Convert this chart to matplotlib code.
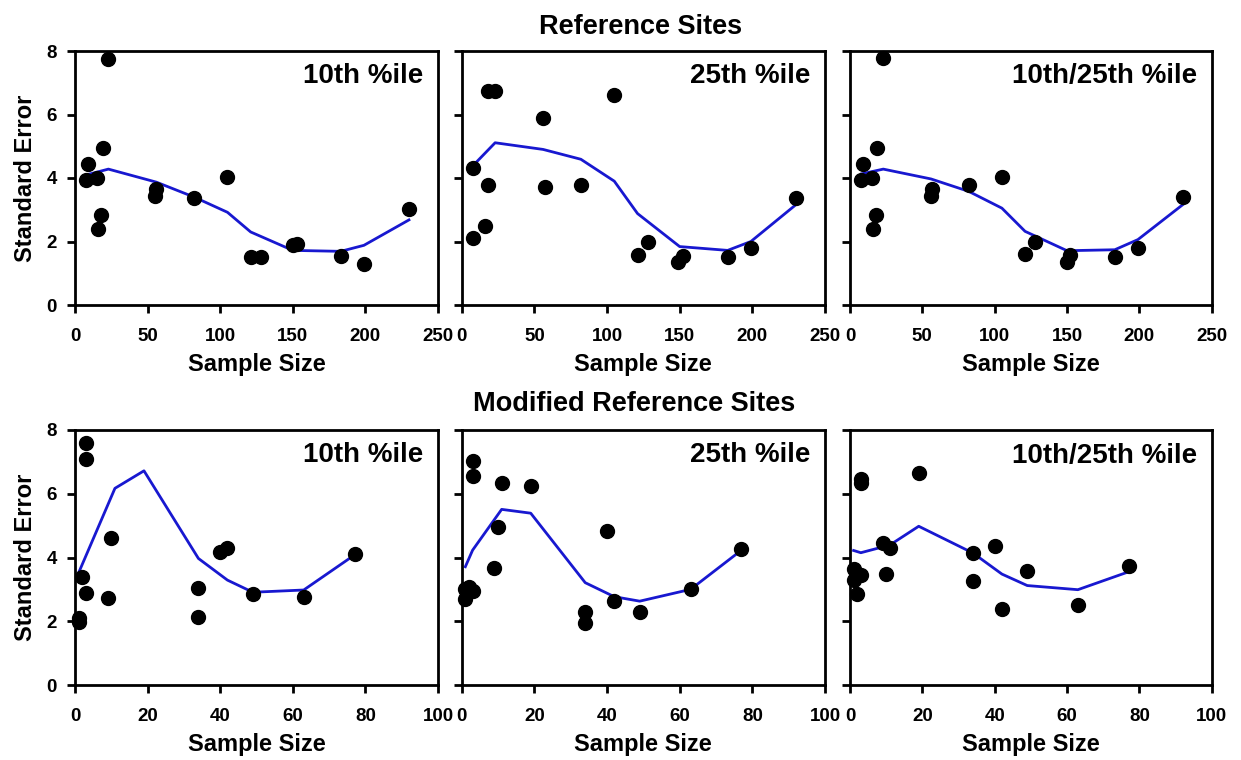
import matplotlib
matplotlib.use("Agg")
import matplotlib.pyplot as plt

plt.rcParams['font.family'] = ['Liberation Sans', 'DejaVu Sans']
plt.rcParams['font.weight'] = 'bold'

# Reference sites - 10th %ile
ref10_x = [23, 9, 7.5, 15, 19, 18, 16, 56, 55, 82, 105, 121, 128, 150, 153, 183, 199, 230]
ref10_y = [7.75, 4.45, 3.95, 4.0, 4.95, 2.82, 2.4, 3.65, 3.43, 3.38, 4.02, 1.5, 1.5, 1.9, 1.93, 1.53, 1.3, 3.03]
ref_fit_x = [8, 23, 56, 82, 105, 121, 150, 183, 199, 230]
ref10_fit = [4.1, 4.28, 3.87, 3.4, 2.92, 2.3, 1.72, 1.69, 1.88, 2.68]

# Reference sites - 25th %ile
ref25_x = [18, 23, 105, 56, 8, 18, 57, 82, 16, 8, 121, 128, 149, 152, 183, 199, 230]
ref25_y = [6.75, 6.75, 6.62, 5.9, 4.3, 3.78, 3.72, 3.77, 2.5, 2.1, 1.58, 1.98, 1.34, 1.55, 1.51, 1.8, 3.36]
ref25_fit = [4.4, 5.11, 4.9, 4.59, 3.9, 2.88, 1.84, 1.72, 2.0, 3.16]

# Reference sites - 10th/25th %ile
ref1025_x = [23, 9, 7.5, 15, 19, 18, 16, 57, 56, 82, 105, 121, 128, 150, 152, 183, 199, 230]
ref1025_y = [7.78, 4.44, 3.94, 3.99, 4.94, 2.84, 2.4, 3.66, 3.43, 3.78, 4.03, 1.61, 1.98, 1.37, 1.58, 1.52, 1.81, 3.39]
ref1025_fit = [4.13, 4.28, 3.97, 3.58, 3.05, 2.32, 1.71, 1.74, 2.06, 3.16]

# Modified reference sites - 10th %ile
mod10_x = [3, 3, 10, 40, 42, 77, 2, 3, 9, 34, 34, 49, 63, 1, 1]
mod10_y = [7.6, 7.1, 4.62, 4.18, 4.3, 4.1, 3.4, 2.9, 2.72, 3.03, 2.14, 2.85, 2.75, 2.1, 1.97]
mod10_fit_x = [1, 11, 19, 34, 42, 49, 63, 77]
mod10_fit = [3.52, 6.17, 6.72, 3.97, 3.29, 2.91, 2.98, 4.08]

# Modified reference sites - 25th %ile
mod25_x = [3, 3, 11, 19, 10, 40, 77, 9, 1, 2, 3, 1, 42, 49, 63, 34, 34]
mod25_y = [7.03, 6.55, 6.35, 6.25, 4.97, 4.83, 4.28, 3.67, 3.0, 3.06, 2.95, 2.7, 2.62, 2.28, 3.0, 2.28, 1.95]
mod_fit_x = [1, 3, 11, 19, 34, 42, 49, 63, 77]
mod25_fit = [3.71, 4.23, 5.51, 5.39, 3.21, 2.77, 2.63, 3.0, 4.23]

# Modified reference sites - 10th/25th %ile
mod1025_x = [3, 3, 19, 9, 11, 40, 34, 49, 77, 1, 3, 1, 2, 10, 34, 42, 63]
mod1025_y = [6.45, 6.35, 6.65, 4.45, 4.31, 4.36, 4.13, 3.57, 3.72, 3.64, 3.46, 3.3, 2.85, 3.49, 3.26, 2.37, 2.5]
mod1025_fit = [4.22, 4.15, 4.39, 4.98, 4.14, 3.48, 3.12, 2.99, 3.55]

labels = ['10th %ile', '25th %ile', '10th/25th %ile']

panels = [
    (ref10_x, ref10_y, ref_fit_x, ref10_fit),
    (ref25_x, ref25_y, ref_fit_x, ref25_fit),
    (ref1025_x, ref1025_y, ref_fit_x, ref1025_fit),
    (mod10_x, mod10_y, mod10_fit_x, mod10_fit),
    (mod25_x, mod25_y, mod_fit_x, mod25_fit),
    (mod1025_x, mod1025_y, mod_fit_x, mod1025_fit),
]

fig = plt.figure(figsize=(12.41, 7.6), dpi=100)

lefts = [75 / 1241, 461.7 / 1241, 850 / 1241]
widths = [363 / 1241, 363.3 / 1241, 361.7 / 1241]
bottoms = [1 - 305 / 760, 1 - 685 / 760]
heights = [254 / 760, 255 / 760]

for i, (px, py, fx, fy) in enumerate(panels):
    row, col = i // 3, i % 3
    ax = fig.add_axes([lefts[col], bottoms[row], widths[col], heights[row]])
    ax.plot(fx, fy, color='#1818d0', lw=2, zorder=2)
    ax.plot(px, py, 'o', color='black', ms=10, clip_on=False, zorder=3)
    ax.set_ylim(0, 8)
    ax.set_yticks([0, 2, 4, 6, 8])
    if row == 0:
        ax.set_xlim(0, 250)
        ax.set_xticks([0, 50, 100, 150, 200, 250])
    else:
        ax.set_xlim(0, 100)
        ax.set_xticks([0, 20, 40, 60, 80, 100])
    for s in ax.spines.values():
        s.set_linewidth(2)
    ax.tick_params(direction='out', length=6, width=2, labelsize=13.5)
    ax.tick_params(axis='x', pad=10.5)
    ax.tick_params(axis='y', pad=7)
    if col == 0:
        ax.set_ylabel('Standard Error', fontsize=17, fontweight='bold', labelpad=7)
    else:
        ax.set_yticklabels([])
    ax.set_xlabel('Sample Size', fontsize=17, fontweight='bold', labelpad=6)
    ax.text(0.96, 0.90, labels[col], transform=ax.transAxes, ha='right', va='center',
            fontsize=20, fontweight='bold')

fig.text(0.516, 0.965, 'Reference Sites', ha='center', va='center', fontsize=19.5, fontweight='bold')
fig.text(0.511, 0.469, 'Modified Reference Sites', ha='center', va='center', fontsize=19.5, fontweight='bold')

fig.savefig('out.png', dpi=100)
